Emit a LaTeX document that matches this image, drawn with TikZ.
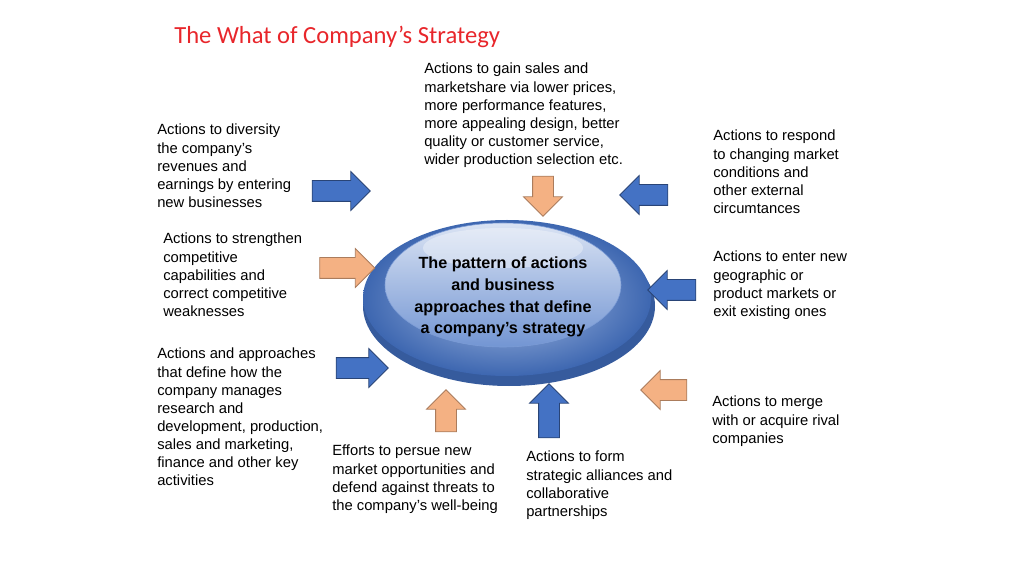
\documentclass[tikz,border=0pt]{standalone}
\usepackage{fontspec}
\setmainfont{Liberation Sans}
\newfontfamily\titlefont{Carlito}
\usetikzlibrary{positioning,arrows,shapes.arrows}

\definecolor{arrorange}{HTML}{F4B183}
\definecolor{arrblue}{HTML}{4472C4}
\definecolor{titlered}{HTML}{E8262B}

\newlength{\pxunit}\setlength{\pxunit}{0.025cm}
\tikzset{
	txt/.style={anchor=north west,align=left,inner sep=0pt,font=\fontsize{10.5}{12.9}\selectfont},
	bigarrow/.style={single arrow,draw,minimum height=#1,minimum width=38\pxunit,single arrow head extend=9\pxunit,inner sep=10\pxunit,line width=0.6pt},
	orangearrow/.style={bigarrow=#1,fill=arrorange,draw=arrorange!70!black},
	bluearrow/.style={bigarrow=#1,fill=arrblue,draw=arrblue!60!black}
}

\begin{document}
\begin{tikzpicture}[x=0.025cm,y=-0.025cm]
	\useasboundingbox (0,0) rectangle (1024,576);

	% Title
	\node[anchor=west,inner sep=0pt,text=titlered,font=\titlefont\fontsize{17.5}{20}\selectfont] (title) at (174,37) {The What of Company’s Strategy};

	% Central disk
	\fill[arrblue!80!black] (509,306) ellipse (146 and 80);
	\shade[inner color=arrblue!45,outer color=arrblue!90!black] (507,298) ellipse (144 and 78);
	\shade[top color=arrblue!20!white,bottom color=arrblue!75,draw=arrblue!70] (503,285) ellipse (118 and 62);
	\fill[white,opacity=0.35] (503,248) ellipse (80 and 20);
	\node[align=center,font=\bfseries\fontsize{11.5}{15.5}\selectfont] (core) at (503,297) {The pattern of actions\\and business\\approaches that define\\a company’s strategy};

	% Arrows
	\node[orangearrow=40\pxunit,shape border rotate=270] (a1) at (543,191) {};
	\node[bluearrow=58\pxunit] (a2) at (336,191) {};
	\node[bluearrow=48\pxunit,shape border rotate=180] (a3) at (649,195) {};
	\node[orangearrow=55\pxunit] (a4) at (342,268) {};
	\node[bluearrow=48\pxunit,shape border rotate=180] (a5) at (677,290) {};
	\node[bluearrow=52\pxunit] (a6) at (357,368) {};
	\node[orangearrow=46\pxunit,shape border rotate=180] (a7) at (669,390) {};
	\node[orangearrow=42\pxunit,shape border rotate=90] (a8) at (446,416) {};
	\node[bluearrow=54\pxunit,shape border rotate=90] (a9) at (549,416) {};

	% Texts
	\node[txt] (t1) at (424,63) {Actions to gain sales and\\marketshare via lower prices,\\more performance features,\\more appealing design, better\\quality or customer service,\\wider production selection etc.};
	\node[txt] (t2) at (157,124) {Actions to diversity\\the company’s\\revenues and\\earnings by entering\\new businesses};
	\node[txt] (t3) at (713,130) {Actions to respond\\to changing market\\conditions and\\other external\\circumtances};
	\node[txt] (t4) at (163,233) {Actions to strengthen\\competitive\\capabilities and\\correct competitive\\weaknesses};
	\node[txt] (t5) at (713,251) {Actions to enter new\\geographic or\\product markets or\\exit existing ones};
	\node[txt] (t6) at (157,348) {Actions and approaches\\that define how the\\company manages\\research and\\development, production,\\sales and marketing,\\finance and other key\\activities};
	\node[txt] (t7) at (712,396) {Actions to merge\\with or acquire rival\\companies};
	\node[txt] (t8) at (332,445) {Efforts to persue new\\market opportunities and\\defend against threats to\\the company’s well-being};
	\node[txt] (t9) at (526,451) {Actions to form\\strategic alliances and\\collaborative\\partnerships};
\end{tikzpicture}
\end{document}
